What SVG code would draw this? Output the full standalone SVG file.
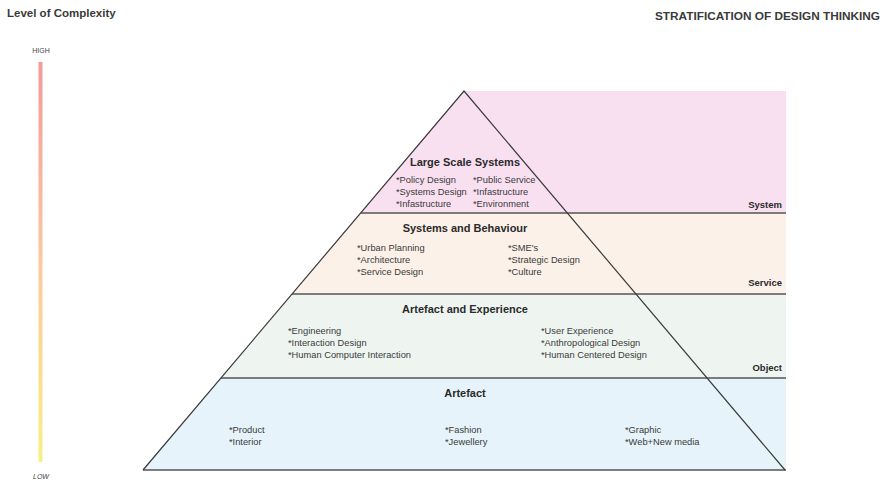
<svg xmlns="http://www.w3.org/2000/svg" width="886" height="482" viewBox="0 0 886 482">
<defs>
<linearGradient id="cx" x1="0" y1="0" x2="0" y2="1">
<stop offset="0" stop-color="#f29a9c"/>
<stop offset="0.5" stop-color="#fbc9a0"/>
<stop offset="1" stop-color="#f8ef86"/>
</linearGradient>
</defs>
<style>
text{font-family:"Liberation Sans",Arial,sans-serif;fill:#333}
.h{font-weight:bold;font-size:11px;fill:#2b2b2b;text-anchor:middle}
.i{font-size:9.3px;fill:#3a3a3a}
.lab{font-weight:bold;font-size:9.5px;fill:#2b2b2b;text-anchor:end}
.hl{stroke:#555;stroke-width:1.6;fill:none}
.edge{stroke:#3a3a3a;stroke-width:1.2;fill:none}
.t{font-weight:bold;fill:#3a3a3a}
.s{font-size:7px;fill:#444;text-anchor:middle}
</style>
<rect width="886" height="482" fill="#fff"/>
<g id="header">
<text class="t" x="7" y="17" font-size="11.5">Level of Complexity</text>
<text class="t" x="880" y="20" font-size="11.8" text-anchor="end">STRATIFICATION OF DESIGN THINKING</text>
</g>
<g id="complexity-scale">
<text class="s" x="41" y="53">HIGH</text>
<rect x="38.5" y="62" width="4" height="400" fill="url(#cx)"/>
<text class="s" x="41" y="479" font-style="italic">LOW</text>
</g>
<g id="system">
<polygon points="464,91 786,91 786,213 361,213" fill="#f9e0f0"/>
<text class="lab" x="782" y="208">System</text>
<text class="h" x="465" y="166">Large Scale Systems</text>
<text class="i" x="396" y="183">*Policy Design</text>
<text class="i" x="396" y="195">*Systems Design</text>
<text class="i" x="396" y="207">*Infastructure</text>
<text class="i" x="473" y="183">*Public Service</text>
<text class="i" x="473" y="195">*Infastructure</text>
<text class="i" x="473" y="207">*Environment</text>
</g>
<g id="service">
<polygon points="361,213 786,213 786,294 292,294" fill="#fcf1e8"/>
<text class="lab" x="782" y="286">Service</text>
<text class="h" x="465" y="232">Systems and Behaviour</text>
<text class="i" x="357" y="251">*Urban Planning</text>
<text class="i" x="357" y="263">*Architecture</text>
<text class="i" x="357" y="275">*Service Design</text>
<text class="i" x="508" y="251">*SME's</text>
<text class="i" x="508" y="263">*Strategic Design</text>
<text class="i" x="508" y="275">*Culture</text>
</g>
<g id="object">
<polygon points="292,294 786,294 786,378 221,378" fill="#eef5f1"/>
<text class="lab" x="782" y="371">Object</text>
<text class="h" x="465" y="313">Artefact and Experience</text>
<text class="i" x="288" y="334">*Engineering</text>
<text class="i" x="288" y="346">*Interaction Design</text>
<text class="i" x="288" y="358">*Human Computer Interaction</text>
<text class="i" x="541" y="334">*User Experience</text>
<text class="i" x="541" y="346">*Anthropological Design</text>
<text class="i" x="541" y="358">*Human Centered Design</text>
</g>
<g id="artefact">
<polygon points="221,378 786,378 786,470 143,470" fill="#e6f3fb"/>
<text class="h" x="465" y="397">Artefact</text>
<text class="i" x="229" y="433">*Product</text>
<text class="i" x="229" y="445">*Interior</text>
<text class="i" x="445" y="433">*Fashion</text>
<text class="i" x="445" y="445">*Jewellery</text>
<text class="i" x="625" y="433">*Graphic</text>
<text class="i" x="625" y="445">*Web+New media</text>
</g>
<g id="connectors">
<line class="hl" x1="361" y1="213" x2="786" y2="213"/>
<line class="hl" x1="292" y1="294" x2="786" y2="294"/>
<line class="hl" x1="221" y1="378" x2="786" y2="378"/>
<line class="hl" x1="143" y1="470" x2="786" y2="470"/>
<polyline class="edge" points="143,470 464,91 785,470"/>
</g>
</svg>
